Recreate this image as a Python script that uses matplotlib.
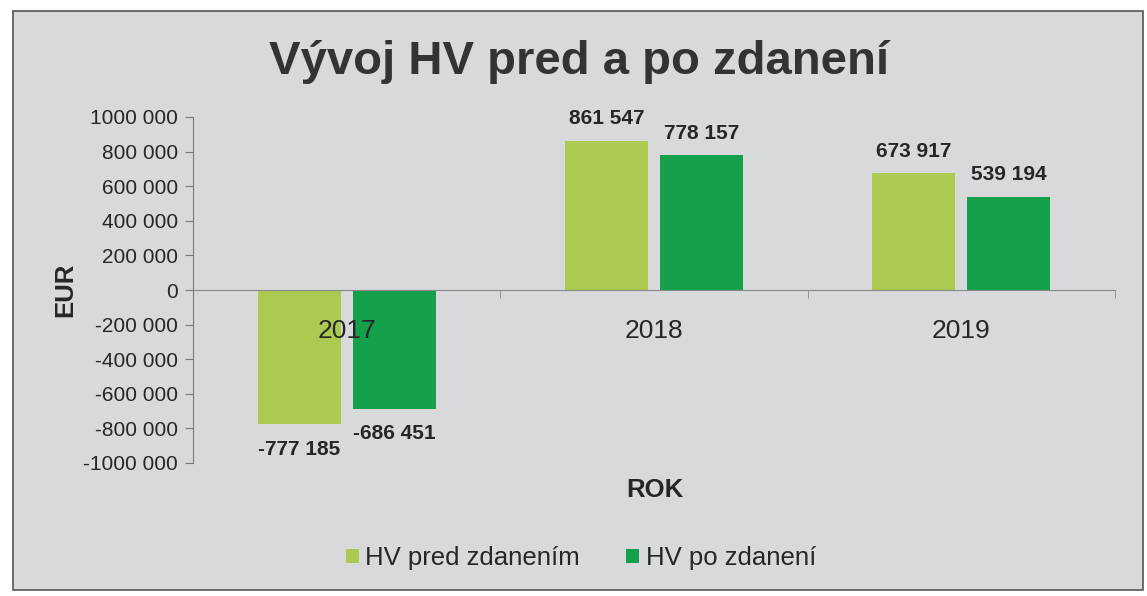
import matplotlib
matplotlib.use("Agg")
import matplotlib.pyplot as plt
import numpy as np
from matplotlib.patches import Rectangle

plt.rcParams['font.family'] = ['Liberation Sans', 'DejaVu Sans']

categories = ['2017', '2018', '2019']
hv_pred = [-777185, 861547, 673917]
hv_po = [-686451, 778157, 539194]
series_names = ['HV pred zdanením', 'HV po zdanení']
ytick_vals = [-1000000, -800000, -600000, -400000, -200000, 0, 200000, 400000, 600000, 800000, 1000000]
ytick_labels = ['-1000 000', '-800 000', '-600 000', '-400 000', '-200 000', '0',
                '200 000', '400 000', '600 000', '800 000', '1000 000']

def fmt(v):
    s = f"{abs(v):,}".replace(',', ' ')
    return ('-' if v < 0 else '') + s

bg = '#d8d9db'
c_light = '#acca50'
c_dark = '#14a04a'
txt = '#262626'

fig = plt.figure(figsize=(11.47, 5.96), dpi=100)
fig.patch.set_facecolor('white')
frame = Rectangle((13/1147, 6/596), 1130/1147, 579/596, transform=fig.transFigure,
                  facecolor=bg, edgecolor='#555555', linewidth=1.2, zorder=-5)
fig.add_artist(frame)

ax = fig.add_axes([193/1147, 1 - 463/596, (1115 - 193)/1147, (463 - 117)/596], zorder=2)
ax.set_facecolor('none')
for s in ['top', 'right']:
    ax.spines[s].set_visible(False)
ax.spines['bottom'].set_position(('data', 0))
ax.spines['bottom'].set_color('#888888')
ax.spines['left'].set_color('#777777')
ax.set_axisbelow(False)

x = np.arange(len(categories))
w = 0.27
off = 0.155
b1 = ax.bar(x - off, hv_pred, w, color=c_light, label=series_names[0], zorder=2)
b2 = ax.bar(x + off, hv_po, w, color=c_dark, label=series_names[1], zorder=2)

for bars, vals in ((b1, hv_pred), (b2, hv_po)):
    for rect, v in zip(bars, vals):
        cx = rect.get_x() + rect.get_width() / 2
        if v >= 0:
            ax.annotate(fmt(v), (cx, v), xytext=(0, 9), textcoords='offset points',
                        ha='center', va='bottom', fontsize=15, fontweight='bold', color=txt)
        else:
            ax.annotate(fmt(v), (cx, v), xytext=(0, -11), textcoords='offset points',
                        ha='center', va='top', fontsize=15, fontweight='bold', color=txt)

ax.set_xlim(-0.5, len(categories) - 0.5)
ax.set_ylim(-1000000, 1000000)
ax.set_yticks(ytick_vals)
ax.set_yticklabels(ytick_labels)
ax.set_xticks(x)
ax.set_xticklabels(categories)
ax.set_xticks([0.5, 1.5, 2.5], minor=True)
ax.tick_params(axis='x', which='major', length=0, pad=21, labelsize=19, labelcolor=txt)
ax.tick_params(axis='x', which='minor', length=6, color='#888888', direction='out')
ax.tick_params(axis='y', length=6, color='#777777', pad=5, labelsize=15, labelcolor=txt)

ax.set_ylabel('EUR', fontsize=18.5, fontweight='bold', color=txt, labelpad=4)

fig.text(655/1147, 1 - 490/596, 'ROK', ha='center', va='center', fontsize=18.5, fontweight='bold', color=txt)
fig.text(579/1147, 1 - 62/596, 'Vývoj HV pred a po zdanení', ha='center', va='center',
         fontsize=34, fontweight='bold', color='#333333')

fig.legend(handles=[b1, b2], labels=series_names, loc='center', bbox_to_anchor=(581/1147, 1 - 558/596),
           ncol=2, frameon=False, fontsize=18.5, handlelength=0.5, handleheight=0.5,
           handletextpad=0.25, columnspacing=1.8, labelcolor=txt)

fig.savefig('out.png', dpi=100, facecolor='white')
